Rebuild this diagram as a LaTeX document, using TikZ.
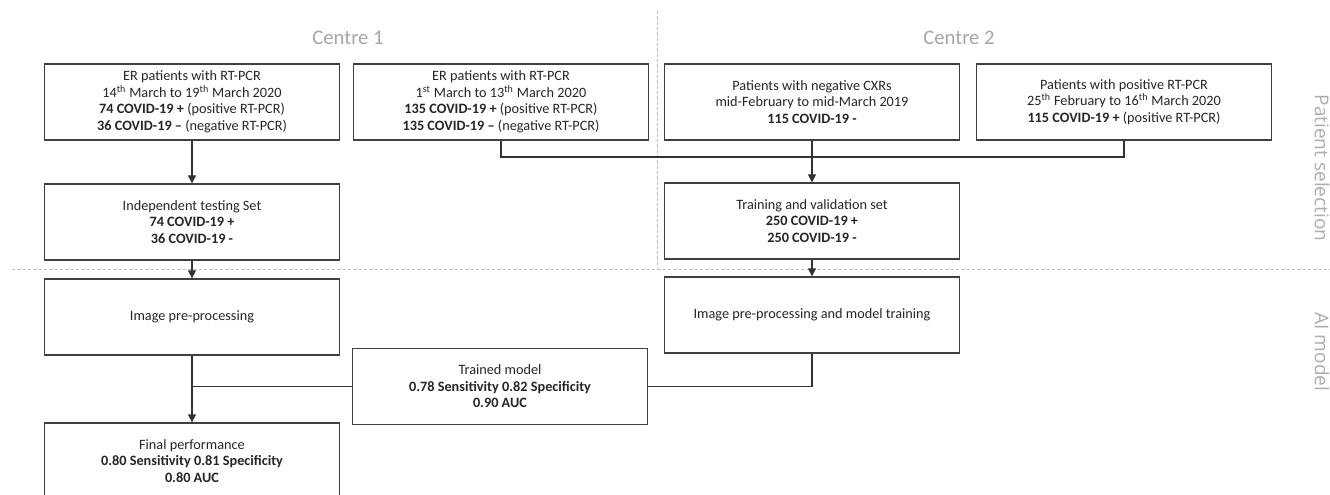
\documentclass[tikz,border=0pt]{standalone}
\usepackage{fontspec}
\setmainfont{Carlito}
\newfontfamily\sidefont{Open Sans}
\usetikzlibrary{arrows.meta}
\tikzset{
  stage/.style={draw=black!75,line width=1pt,fill=white,align=center,
    minimum width=221pt,minimum height=57pt,inner sep=2pt,text=black!85,
    font=\fontsize{10.7}{12.4}\selectfont},
  flow/.style={draw=black!80,line width=1pt},
  flowarrow/.style={flow,-{Triangle[length=6pt,width=6pt]}},
  divider/.style={draw=black!25,line width=0.6pt,dash pattern=on 2.5pt off 1.5pt},
  centre/.style={text=black!35,font=\fontsize{15.5}{18}\selectfont},
  phase/.style={text=black!32,font=\sidefont\fontsize{14.3}{16}\selectfont,rotate=-90}}

\begin{document}
\begin{tikzpicture}[x=0.75pt,y=-0.75pt]
  \useasboundingbox (0,0) rectangle (1330,495);
  % headings and dividers
  \node [centre] (centreA) at (348,38) {Centre 1};
  \node [centre] (centreB) at (959,38) {Centre 2};
  \draw [divider] (657,11) -- (657,268);
  \draw [divider] (12,269) -- (1330,269);
  \node [phase] (selection) at (1322,168) {Patient selection};
  \node [phase] (aimodel) at (1322,352) {AI model};
  % patient selection
  \node [stage] (erlate) at (192,102) {ER patients with RT-PCR\\14\textsuperscript{th} March to 19\textsuperscript{th} March 2020\\\textbf{74 COVID-19 +} (positive RT-PCR)\\\textbf{36 COVID-19 –} (negative RT-PCR)};
  \node [stage] (erearly) at (501,102) {ER patients with RT-PCR\\1\textsuperscript{st} March to 13\textsuperscript{th} March 2020\\\textbf{135 COVID-19 +} (positive RT-PCR)\\\textbf{135 COVID-19 –} (negative RT-PCR)};
  \node [stage] (negcxr) at (812,102) {Patients with negative CXRs\\mid-February to mid-March 2019\\\textbf{115 COVID-19 -}};
  \node [stage] (pospcr) at (1124,102) {Patients with positive RT-PCR\\25\textsuperscript{th} February to 16\textsuperscript{th} March 2020\\\textbf{115 COVID-19 +} (positive RT-PCR)};
  \node [stage] (testset) at (192,222) {Independent testing Set\\\textbf{74 COVID-19 +}\\\textbf{36 COVID-19 -}};
  \node [stage] (trainset) at (812,221) {Training and validation set\\\textbf{250 COVID-19 +}\\\textbf{250 COVID-19 -}};
  % AI model
  \node [stage] (prepA) at (192,317) {Image pre-processing};
  \node [stage] (prepB) at (812,315) {Image pre-processing and model training};
  \node [stage] (model) at (500,386.5) {Trained model\\\textbf{0.78 Sensitivity 0.82 Specificity}\\\textbf{0.90 AUC}};
  \node [stage] (final) at (192,461) {Final performance\\\textbf{0.80 Sensitivity 0.81 Specificity}\\\textbf{0.80 AUC}};
  % connectors
  \coordinate (merge) at (812,157);
  \draw [flowarrow] (erlate) -- (testset);
  \draw [flow] (erearly.south) |- (merge) -| (pospcr.south);
  \draw [flowarrow] (negcxr) -- (trainset);
  \draw [flowarrow] (testset) -- (prepA);
  \draw [flowarrow] (trainset) -- (prepB);
  \draw [flowarrow] (prepA) -- (final);
  \draw [flow] (model.west) -- (model.west -| prepA.south);
  \draw [flow] (prepB.south) |- (model.east);
\end{tikzpicture}
\end{document}
